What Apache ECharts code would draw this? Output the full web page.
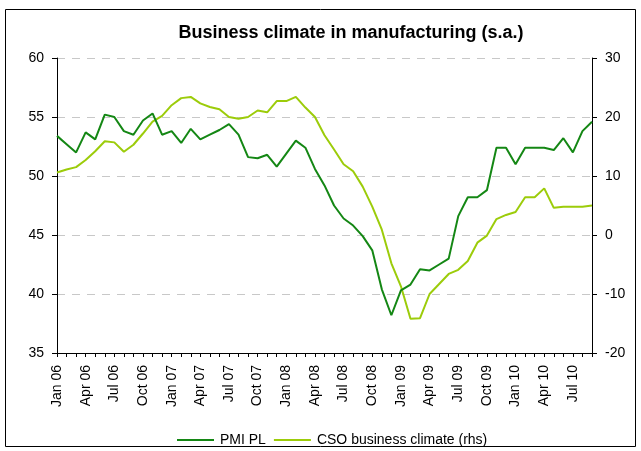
<!DOCTYPE html>
<html>
<head>
<meta charset="utf-8">
<script src="https://cdn.jsdelivr.net/npm/echarts@6/dist/echarts.min.js"></script>
<style>
  html, body { margin: 0; padding: 0; background: #fff; }
  #chart { width: 641px; height: 451px; }
</style>
</head>
<body>
<div id="chart"></div>
<script>
// Monthly observations, Jan 2006 – Sep 2010
const months = [
  'Jan 06','Feb 06','Mar 06','Apr 06','May 06','Jun 06','Jul 06','Aug 06','Sep 06','Oct 06','Nov 06','Dec 06',
  'Jan 07','Feb 07','Mar 07','Apr 07','May 07','Jun 07','Jul 07','Aug 07','Sep 07','Oct 07','Nov 07','Dec 07',
  'Jan 08','Feb 08','Mar 08','Apr 08','May 08','Jun 08','Jul 08','Aug 08','Sep 08','Oct 08','Nov 08','Dec 08',
  'Jan 09','Feb 09','Mar 09','Apr 09','May 09','Jun 09','Jul 09','Aug 09','Sep 09','Oct 09','Nov 09','Dec 09',
  'Jan 10','Feb 10','Mar 10','Apr 10','May 10','Jun 10','Jul 10','Aug 10','Sep 10'
];

// PMI for Poland (left axis)
const pmiPL = [
  53.4, 52.7, 52.0, 53.7, 53.1, 55.2, 55.0, 53.8, 53.5, 54.7, 55.3, 53.5,
  53.8, 52.8, 54.0, 53.1, 53.5, 53.9, 54.4, 53.5, 51.6, 51.5, 51.8, 50.8,
  51.9, 53.0, 52.4, 50.6, 49.2, 47.5, 46.4, 45.8, 44.9, 43.7, 40.4, 38.2,
  40.3, 40.8, 42.1, 42.0, 42.5, 43.0, 46.6, 48.2, 48.2, 48.8, 52.4, 52.4,
  51.0, 52.4, 52.4, 52.4, 52.2, 53.2, 52.0, 53.8, 54.6
];

// CSO business climate indicator (right axis)
const csoClimate = [
  10.6, 11.1, 11.5, 12.7, 14.2, 15.9, 15.7, 14.1, 15.3, 17.2, 19.2, 20.2,
  22.0, 23.2, 23.4, 22.3, 21.7, 21.3, 20.0, 19.7, 20.0, 21.1, 20.8, 22.7,
  22.7, 23.4, 21.6, 20.0, 16.9, 14.5, 12.0, 10.8, 8.2, 4.8, 0.9, -4.8,
  -8.7, -14.2, -14.1, -10.0, -8.3, -6.6, -5.9, -4.4, -1.3, -0.1, 2.7, 3.4,
  3.9, 6.4, 6.4, 7.9, 4.6, 4.8, 4.8, 4.8, 5.0
];

const FONT = '"Liberation Sans", Arial, sans-serif';
const DARK = '#148714';
const LIGHT = '#9ccc0a';

const chart = echarts.init(document.getElementById('chart'), null, { renderer: 'canvas' });

chart.setOption({
  animation: false,
  backgroundColor: '#fff',
  title: {
    text: 'Business climate in manufacturing (s.a.)',
    left: 346,
    textAlign: 'center',
    top: 19,
    textStyle: { fontFamily: FONT, fontSize: 18, fontWeight: 'bold', color: '#000' }
  },
  graphic: [{
    type: 'rect',
    shape: { x: 5.5, y: 9.5, width: 630, height: 437 },
    style: { fill: null, stroke: '#000', lineWidth: 1 },
    silent: true
  }],
  legend: {
    left: 172,
    top: 428,
    itemWidth: 37,
    itemHeight: 2,
    itemGap: 8,
    icon: 'rect',
    textStyle: { fontFamily: FONT, fontSize: 14, color: '#000', padding: [0, 0, 0, 1] },
    data: ['PMI PL', 'CSO business climate (rhs)']
  },
  grid: { left: 57, right: 49, top: 58, bottom: 98, containLabel: false },
  xAxis: {
    type: 'category',
    data: months,
    boundaryGap: false,
    axisLine: { onZero: false, lineStyle: { color: '#000', width: 1 } },
    axisTick: { interval: 0, length: 4, lineStyle: { color: '#000' } },
    axisLabel: {
      interval: 2,
      rotate: 90,
      margin: 12,
      fontFamily: FONT,
      fontSize: 14,
      color: '#000'
    },
    splitLine: { show: false }
  },
  yAxis: [{
    type: 'value',
    min: 35, max: 60, interval: 5,
    position: 'left',
    axisLine: { show: true, lineStyle: { color: '#000', width: 1 } },
    axisTick: { show: true, length: 5, lineStyle: { color: '#000' } },
    axisLabel: { margin: 13, fontFamily: FONT, fontSize: 14, color: '#000' },
    splitLine: { show: true, lineStyle: { color: '#c8c8c8', type: [8, 7], width: 1 } }
  }, {
    type: 'value',
    min: -20, max: 30, interval: 10,
    position: 'right',
    axisLine: { show: true, lineStyle: { color: '#000', width: 1 } },
    axisTick: { show: true, length: 5, lineStyle: { color: '#000' } },
    axisLabel: { margin: 13, fontFamily: FONT, fontSize: 14, color: '#000' },
    splitLine: { show: false }
  }],
  series: [{
    name: 'PMI PL',
    type: 'line',
    yAxisIndex: 0,
    data: pmiPL,
    symbol: 'none',
    color: DARK,
    lineStyle: { color: DARK, width: 2 },
    z: 3
  }, {
    name: 'CSO business climate (rhs)',
    type: 'line',
    yAxisIndex: 1,
    data: csoClimate,
    symbol: 'none',
    color: LIGHT,
    lineStyle: { color: LIGHT, width: 2 },
    z: 2
  }]
});
</script>
</body>
</html>
